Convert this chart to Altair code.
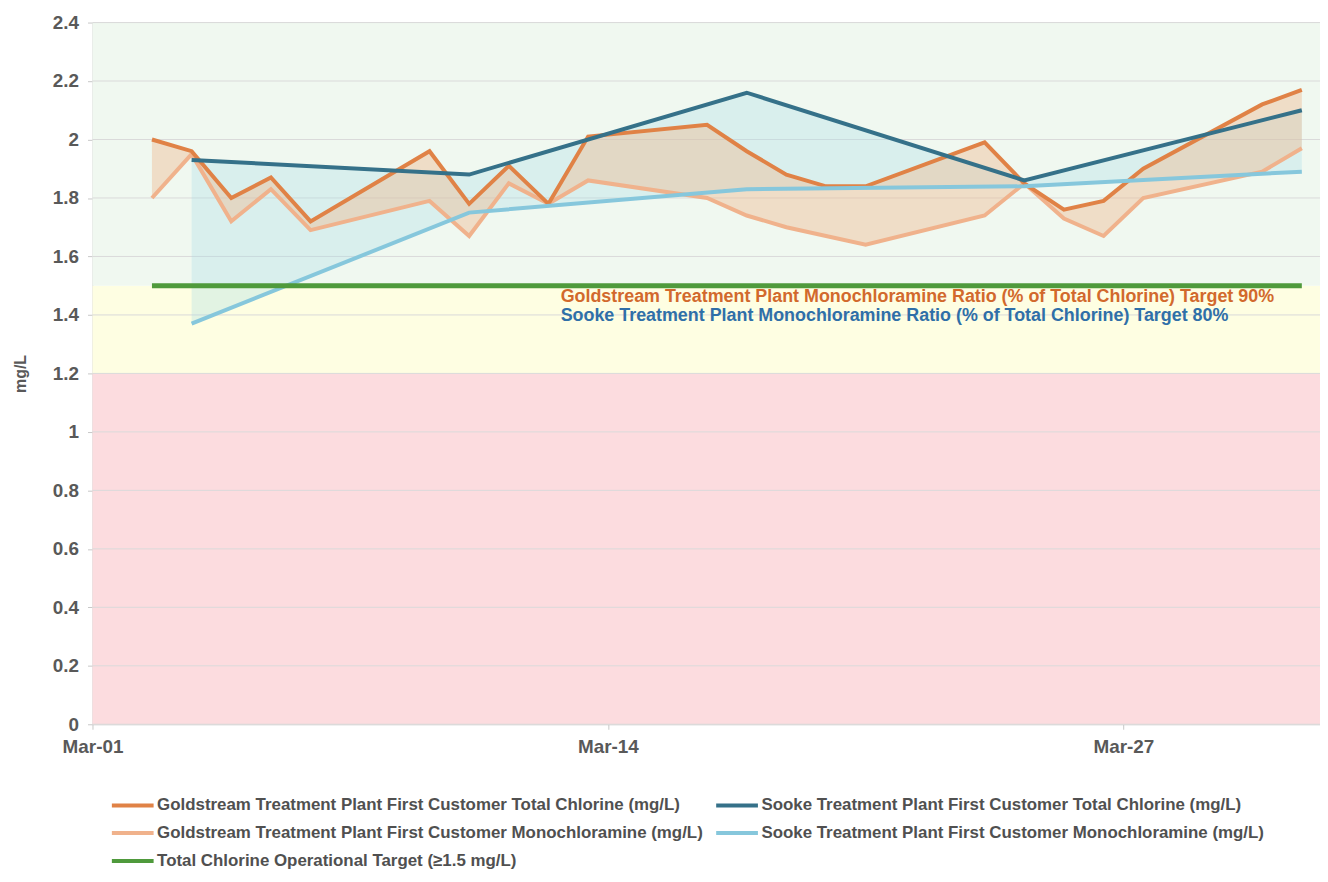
import altair as alt
import pandas as pd

# ---------------- data ----------------
gold_dates = ["2024-03-02", "2024-03-03", "2024-03-04", "2024-03-05", "2024-03-06",
              "2024-03-09", "2024-03-10", "2024-03-11", "2024-03-12", "2024-03-13",
              "2024-03-16", "2024-03-17", "2024-03-18", "2024-03-19", "2024-03-20",
              "2024-03-23", "2024-03-24", "2024-03-25", "2024-03-26", "2024-03-27",
              "2024-03-30", "2024-03-31"]
gold_total = [2.00, 1.96, 1.80, 1.87, 1.72,
              1.96, 1.78, 1.91, 1.78, 2.01,
              2.05, 1.96, 1.88, 1.84, 1.84,
              1.99, 1.85, 1.76, 1.79, 1.90,
              2.12, 2.17]
gold_mono = [1.80, 1.95, 1.72, 1.83, 1.69,
             1.79, 1.67, 1.85, 1.78, 1.86,
             1.80, 1.74, 1.70, 1.67, 1.64,
             1.74, 1.85, 1.73, 1.67, 1.80,
             1.89, 1.97]

sooke_dates = ["2024-03-03", "2024-03-10", "2024-03-17", "2024-03-24", "2024-03-31"]
sooke_total = [1.93, 1.88, 2.16, 1.86, 2.10]
sooke_mono = [1.37, 1.75, 1.83, 1.84, 1.89]

target_dates = ["2024-03-02", "2024-03-31"]
target_vals = [1.5, 1.5]

GT = "Goldstream Treatment Plant First Customer Total Chlorine (mg/L)"
GM = "Goldstream Treatment Plant First Customer Monochloramine (mg/L)"
TG = "Total Chlorine Operational Target (\u22651.5 mg/L)"
ST = "Sooke Treatment Plant First Customer Total Chlorine (mg/L)"
SM = "Sooke Treatment Plant First Customer Monochloramine (mg/L)"

# legend is filled column by column: left column first, then right column
series_names = [GT, GM, TG, ST, SM]
series_colors = ["#e08246", "#f0b28c", "#4f9a3c", "#357189", "#86c7dc"]
draw_order = [GM, GT, SM, ST, TG]

band_lo = [0.0, 1.2, 1.5]
band_hi = [1.2, 1.5, 2.4]
band_colors = ["#fcdcdf", "#fefee2", "#f0f8f0"]

y_ticks = [0, 0.2, 0.4, 0.6, 0.8, 1.0, 1.2, 1.4, 1.6, 1.8, 2.0, 2.2, 2.4]
x_tick_days = [1, 14, 27]

ann_gold = "Goldstream Treatment Plant Monochloramine Ratio (% of Total Chlorine) Target 90%"
ann_sooke = "Sooke Treatment Plant Monochloramine Ratio (% of Total Chlorine) Target 80%"

NOON = "T12:00:00"

# ---------------- tables ----------------
rows = []
for d, v in zip(gold_dates, gold_total):
    rows.append({"date": d + NOON, "value": v, "series": GT})
for d, v in zip(sooke_dates, sooke_total):
    rows.append({"date": d + NOON, "value": v, "series": ST})
for d, v in zip(gold_dates, gold_mono):
    rows.append({"date": d + NOON, "value": v, "series": GM})
for d, v in zip(sooke_dates, sooke_mono):
    rows.append({"date": d + NOON, "value": v, "series": SM})
for d, v in zip(target_dates, target_vals):
    rows.append({"date": d + NOON, "value": v, "series": TG})
lines_df = pd.DataFrame(rows)

gold_area = pd.DataFrame({"date": [d + NOON for d in gold_dates], "hi": gold_total, "lo": gold_mono})
sooke_area = pd.DataFrame({"date": [d + NOON for d in sooke_dates], "hi": sooke_total, "lo": sooke_mono})
bands_df = pd.DataFrame({"lo": band_lo, "hi": band_hi, "c": band_colors})
grid_df = pd.DataFrame({"v": y_ticks})

FONT = "Liberation Sans"
GREY = "#595959"

x_scale = alt.Scale(domain=[alt.DateTime(year=2024, month=3, date=1),
                            alt.DateTime(year=2024, month=3, date=31, hours=23)])
y_scale = alt.Scale(domain=[0, 2.4], nice=False)

x_enc = alt.X("date:T", scale=x_scale, axis=alt.Axis(
    values=[alt.DateTime(year=2024, month=3, date=d) for d in x_tick_days],
    format="%b-%d", title=None, grid=False, labelFont=FONT, labelFontSize=19,
    labelFontWeight="bold", labelColor=GREY, labelPadding=8, tickSize=5,
    tickColor="#c8c8c8", domainColor="#c8c8c8", labelFlush=False))

y_axis = alt.Axis(values=y_ticks, format=".1~f", title="mg/L", grid=False,
                  labelFont=FONT, labelFontSize=19, labelFontWeight="bold",
                  labelColor=GREY, labelPadding=9, tickSize=5, tickColor="#c8c8c8",
                  domainColor="#c8c8c8", titleFont=FONT, titleFontSize=16,
                  titleFontWeight="bold", titleColor=GREY, titlePadding=24)

bands = alt.Chart(bands_df).mark_rect().encode(
    y=alt.Y("lo:Q", scale=y_scale, axis=y_axis),
    y2="hi:Q",
    fill=alt.Fill("c:N", scale=None),
)

grid = alt.Chart(grid_df).mark_rule(color="#dadada", strokeWidth=1).encode(
    y=alt.Y("v:Q", scale=y_scale)
)

gold_fill = alt.Chart(gold_area).mark_area(color="#eeb890", opacity=0.42).encode(
    x=x_enc, y=alt.Y("hi:Q", scale=y_scale), y2="lo:Q")
sooke_fill = alt.Chart(sooke_area).mark_area(color="#a8dde6", opacity=0.32).encode(
    x=x_enc, y=alt.Y("hi:Q", scale=y_scale), y2="lo:Q")

legend = alt.Legend(
    orient="none", legendX=32, legendY=779, columns=2, title=None,
    symbolType="M-3.5,0H3.5", symbolSize=144, symbolStrokeWidth=4,
    labelOffset=16, labelFont=FONT, labelFontSize=17, labelFontWeight="bold",
    labelColor="#505050", labelLimit=800, rowPadding=10, columnPadding=4,
    padding=0,
)
color_enc = alt.Color("series:N", scale=alt.Scale(domain=series_names, range=series_colors),
                      legend=legend)

line_layers = []
for name in draw_order:
    sw = 5 if name == TG else 4
    line_layers.append(
        alt.Chart(lines_df).transform_filter(alt.datum.series == name)
        .mark_line(strokeWidth=sw)
        .encode(x=x_enc, y=alt.Y("value:Q", scale=y_scale), color=color_enc)
    )

ann1 = alt.Chart(pd.DataFrame({"t": [ann_gold]})).mark_text(
    align="left", baseline="middle", font=FONT, fontSize=18, fontWeight="bold",
    color="#d2692c").encode(x=alt.value(471), y=alt.value(276), text="t:N")
ann2 = alt.Chart(pd.DataFrame({"t": [ann_sooke]})).mark_text(
    align="left", baseline="middle", font=FONT, fontSize=18, fontWeight="bold",
    color="#2f6fa8").encode(x=alt.value(471), y=alt.value(295), text="t:N")

chart = alt.layer(bands, grid, sooke_fill, gold_fill, *line_layers, ann1, ann2).properties(
    width=1235, height=706,
    padding={"left": 85, "top": 12, "right": 0, "bottom": 148},
    autosize=alt.AutoSizeParams(type="none"),
    background="white",
).configure_view(strokeWidth=0)

chart.save("out.html", embed_options={"renderer": "svg", "actions": False})
